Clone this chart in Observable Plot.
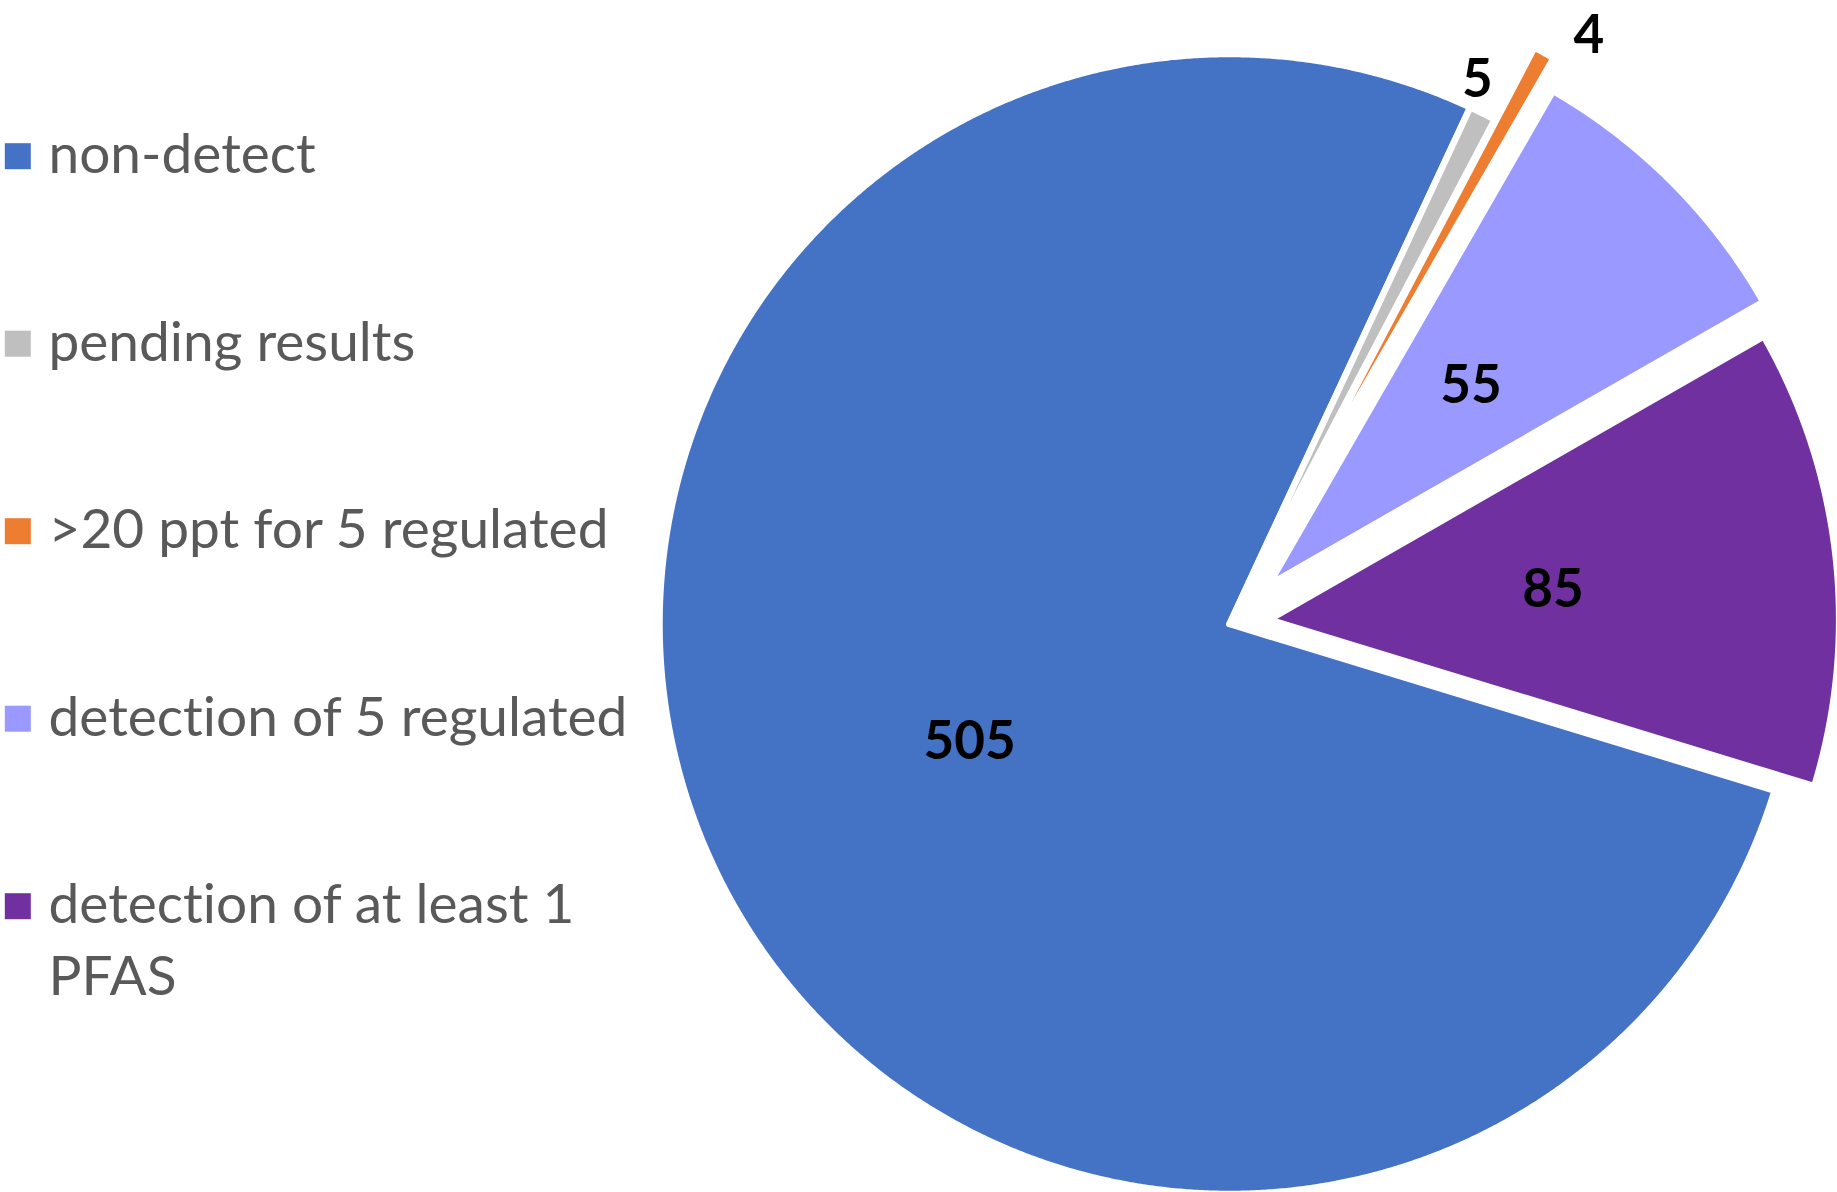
<!DOCTYPE html>
<html>
<head>
<meta charset="utf-8">
<script src="https://cdn.jsdelivr.net/npm/d3@7"></script>
<script src="https://cdn.jsdelivr.net/npm/@observablehq/plot@0.6"></script>
<style>
  html, body { margin: 0; padding: 0; background: #ffffff; }
  #chart svg { display: block; }
  #chart svg text { font-variant-ligatures: none; font-feature-settings: "liga" 0, "clig" 0; }
</style>
</head>
<body>
<div id="chart"></div>
<script>
// ---- data ----
const categories = ["non-detect", "pending results", ">20 ppt for 5 regulated", "detection of 5 regulated", "detection of at least 1 PFAS"];
const counts = [505, 5, 4, 55, 85];
const legendLabels = ["non-detect", "pending results", ">20 ppt for 5 regulated", "detection of 5 regulated", "detection of at least 1\nPFAS"];
const colors = ["#4472C4", "#BFBFBF", "#ED7D31", "#9999FF", "#7030A0"];

// ---- layout / style ----
const W = 1837, H = 1192;
const CX = 1229.5, CY = 624, R = 570;     // pie centre and radius, px
const startDeg = 107;                      // first slice angle (clockwise from 12 o'clock)
const explode = [0, 0, 0.144, 0.097, 0.07];   // fraction of radius
const labelAngleShift = [0, -2.0, 2.8, 0, 0]; // degrees
const labelRadius = [0.5, 1.052, 1.068, 0.5, 0.5];
const LEG_X = 17.3, LEG_Y0 = 155.7, LEG_DY = 187.5, LEG_TEXT_X = 48;
const LEG_FS = 55, LEG_LH = 71.7, LAB_FS = 53;
const FONT = "Lato, 'Open Sans', sans-serif";

const rows = categories.map((c, i) => ({category: c, count: counts[i], legend: legendLabels[i]}));
const a0 = startDeg * Math.PI / 180;
const arcs = d3.pie().sort(null).value(d => d.count).startAngle(a0).endAngle(a0 + 2 * Math.PI)(rows);

const slicePts = [];
const labelPts = [];
arcs.forEach((a, i) => {
  const mid = (a.startAngle + a.endAngle) / 2;
  const ox = explode[i] * Math.sin(mid), oy = explode[i] * Math.cos(mid);
  const n = Math.max(2, Math.ceil((a.endAngle - a.startAngle) / (Math.PI / 720)));
  for (let k = 0; k <= n; k++) {
    const t = a.startAngle + (a.endAngle - a.startAngle) * k / n;
    slicePts.push({category: a.data.category, x: ox + Math.sin(t), y: oy + Math.cos(t), x0: ox, y0: oy});
  }
  const la = mid + labelAngleShift[i] * Math.PI / 180;
  labelPts.push({category: a.data.category, value: a.data.count,
    x: ox + labelRadius[i] * Math.sin(la), y: oy + labelRadius[i] * Math.cos(la)});
});

// pixel -> data units helpers (for legend layout)
const px2x = px => (px - CX) / R;
const py2y = py => (CY - py) / R;
const legendRows = rows.map((d, i) => ({
  ...d,
  sx: px2x(LEG_X), sy: py2y(LEG_Y0 + i * LEG_DY),
  tx: px2x(LEG_TEXT_X), ty: py2y(LEG_Y0 + i * LEG_DY + 17 - 0.71 * LEG_LH)
}));

const chart = Plot.plot({
  width: W, height: H,
  marginTop: 0, marginRight: 0, marginBottom: 0, marginLeft: 0,
  style: {fontFamily: FONT, background: "#ffffff"},
  x: {domain: [px2x(0), px2x(W)], range: [0, W], axis: null},
  y: {domain: [py2y(H), py2y(0)], range: [H, 0], axis: null},
  color: {domain: categories, range: colors},
  marks: [
    Plot.area(slicePts, {x1: "x", y1: "y", x2: "x0", y2: "y0", z: "category", fill: "category",
      stroke: "#ffffff", strokeWidth: 6.5, strokeLinejoin: "round", curve: "linear"}),
    Plot.text(labelPts, {x: "x", y: "y", text: d => String(d.value), fill: "#000000",
      fontWeight: "bold", fontSize: LAB_FS, fontFamily: FONT, dy: 2}),
    Plot.dot(legendRows, {x: "sx", y: "sy", fill: "category", symbol: "square", r: 26 / Math.sqrt(Math.PI), stroke: null}),
    Plot.text(legendRows, {x: "tx", y: "ty", text: "legend", textAnchor: "start", lineAnchor: "top",
      lineHeight: LEG_LH / LEG_FS, fontSize: LEG_FS, fontFamily: FONT, fill: "#595959"})
  ]
});
document.getElementById("chart").appendChild(chart);
</script>
</body>
</html>
